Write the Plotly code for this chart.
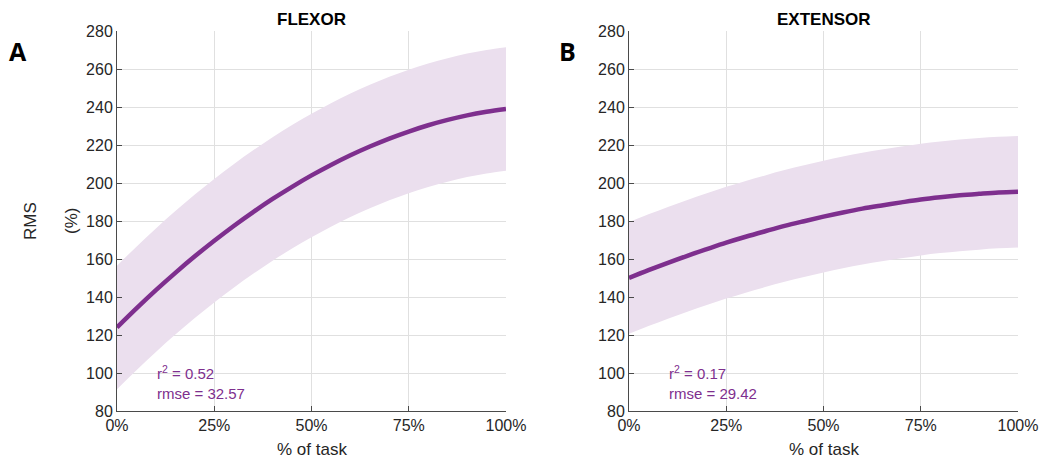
import plotly.graph_objects as go

x_pct = [0, 5, 10, 15, 20, 25, 30, 35, 40, 45, 50, 55, 60, 65, 70, 75, 80, 85, 90, 95, 100]

flexor_mean = [124.0, 134.0, 143.6, 152.7, 161.4, 169.6, 177.4, 184.7, 191.6, 198.0, 204.0,
               209.5, 214.6, 219.2, 223.4, 227.1, 230.4, 233.2, 235.6, 237.5, 239.0]
flexor_upper = [156.5, 166.5, 176.1, 185.2, 193.9, 202.1, 209.9, 217.2, 224.1, 230.5, 236.5,
                242.0, 247.1, 251.7, 255.9, 259.6, 262.9, 265.7, 268.1, 270.0, 271.5]
flexor_lower = [91.5, 101.5, 111.1, 120.2, 128.9, 137.1, 144.9, 152.2, 159.1, 165.5, 171.5,
                177.0, 182.1, 186.7, 190.9, 194.6, 197.9, 200.7, 203.1, 205.0, 206.5]

extensor_mean = [150.0, 154.1, 158.0, 161.7, 165.2, 168.6, 171.7, 174.6, 177.4, 179.9, 182.3,
                 184.5, 186.5, 188.2, 189.8, 191.3, 192.5, 193.5, 194.3, 195.0, 195.4]
extensor_upper = [179.4, 183.5, 187.4, 191.1, 194.6, 198.0, 201.1, 204.0, 206.8, 209.3, 211.7,
                  213.9, 215.9, 217.6, 219.2, 220.7, 221.9, 222.9, 223.7, 224.4, 224.8]
extensor_lower = [120.6, 124.7, 128.6, 132.3, 135.8, 139.2, 142.3, 145.2, 148.0, 150.5, 152.9,
                  155.1, 157.1, 158.8, 160.4, 161.9, 163.1, 164.1, 164.9, 165.6, 166.0]

titles = ["FLEXOR", "EXTENSOR"]
panel_letters = ["A", "B"]
stats = [("0.52", "32.57"), ("0.17", "29.42")]
y_ticks = [80, 100, 120, 140, 160, 180, 200, 220, 240, 260, 280]
x_ticks = [0, 25, 50, 75, 100]
x_tick_labels = ["0%", "25%", "50%", "75%", "100%"]

LINE = "#7E2F8E"
BAND = "rgb(235,223,238)"
FONT = "Liberation Sans, Arial, sans-serif"
TXT = "#262626"
W, H = 1039, 460

fig = go.Figure()

series = [(flexor_mean, flexor_upper, flexor_lower), (extensor_mean, extensor_upper, extensor_lower)]
for i, (m, u, l) in enumerate(series):
    xa = "x" if i == 0 else "x2"
    ya = "y" if i == 0 else "y2"
    fig.add_trace(go.Scatter(x=x_pct, y=l, mode="lines", line=dict(width=0, shape="spline"),
                             hoverinfo="skip", showlegend=False, xaxis=xa, yaxis=ya))
    fig.add_trace(go.Scatter(x=x_pct, y=u, mode="lines", fill="tonexty", fillcolor=BAND,
                             line=dict(width=0, shape="spline"),
                             hoverinfo="skip", showlegend=False, xaxis=xa, yaxis=ya))
    fig.add_trace(go.Scatter(x=x_pct, y=m, mode="lines", line=dict(color=LINE, width=4.5, shape="spline"),
                             showlegend=False, xaxis=xa, yaxis=ya))

domains_x = [[117 / W, 506 / W], [629 / W, 1018 / W]]
dom_y = [1 - 411 / H, 1 - 31 / H]

axis_common = dict(showline=True, linecolor="#4a4a4a", linewidth=1, ticks="inside", ticklen=5,
                   tickcolor="#4a4a4a", showgrid=True, gridcolor="rgb(224,224,224)", gridwidth=1,
                   zeroline=False, tickfont=dict(family=FONT, size=16, color=TXT), mirror=False,
                   automargin=False)

layout = dict(width=W, height=H, margin=dict(l=0, r=0, t=0, b=0),
              paper_bgcolor="white", plot_bgcolor="white", font=dict(family=FONT))
for i in range(2):
    sx = "" if i == 0 else "2"
    layout["xaxis" + sx] = dict(axis_common, domain=domains_x[i], range=[0, 100],
                                tickmode="array", tickvals=x_ticks, ticktext=x_tick_labels,
                                anchor="y" + sx)
    layout["yaxis" + sx] = dict(axis_common, domain=dom_y, range=[80, 280],
                                tickmode="array", tickvals=y_ticks, anchor="x" + sx)
fig.update_layout(**layout)

anns = []
for i in range(2):
    x0, x1 = domains_x[i]
    xc = (x0 + x1) / 2
    anns.append(dict(text="<b>" + titles[i] + "</b>", x=xc, y=1 - 20 / H, xref="paper", yref="paper",
                     showarrow=False, font=dict(family=FONT, size=17, color="black"),
                     xanchor="center", yanchor="middle"))
    anns.append(dict(text="% of task", x=xc, y=1 - 449 / H, xref="paper", yref="paper",
                     showarrow=False, font=dict(family=FONT, size=17, color=TXT),
                     xanchor="center", yanchor="middle"))
    anns.append(dict(text="<b>" + panel_letters[i] + "</b>", x=(18 if i == 0 else 567) / W, y=1 - 51 / H,
                     xref="paper", yref="paper", showarrow=False,
                     font=dict(family="Open Sans, sans-serif", size=25, color="black"),
                     xanchor="center", yanchor="middle"))
    lx = (x0 * W + 38) / W
    anns.append(dict(text="r<sup>2</sup> = " + stats[i][0] + "<br>rmse = " + stats[i][1],
                     x=lx, y=1 - 382 / H, xref="paper", yref="paper", align="left",
                     showarrow=False, xanchor="left", yanchor="middle",
                     font=dict(family=FONT, size=15, color=LINE)))
anns.append(dict(text="RMS", x=30 / W, y=1 - 221 / H, xref="paper", yref="paper", showarrow=False,
                 textangle=-90, xanchor="center", yanchor="middle",
                 font=dict(family=FONT, size=17, color=TXT)))
anns.append(dict(text="(%)", x=71 / W, y=1 - 221 / H, xref="paper", yref="paper", showarrow=False,
                 textangle=-90, xanchor="center", yanchor="middle",
                 font=dict(family=FONT, size=17, color=TXT)))
fig.update_layout(annotations=anns)

fig.write_html("out.html")
